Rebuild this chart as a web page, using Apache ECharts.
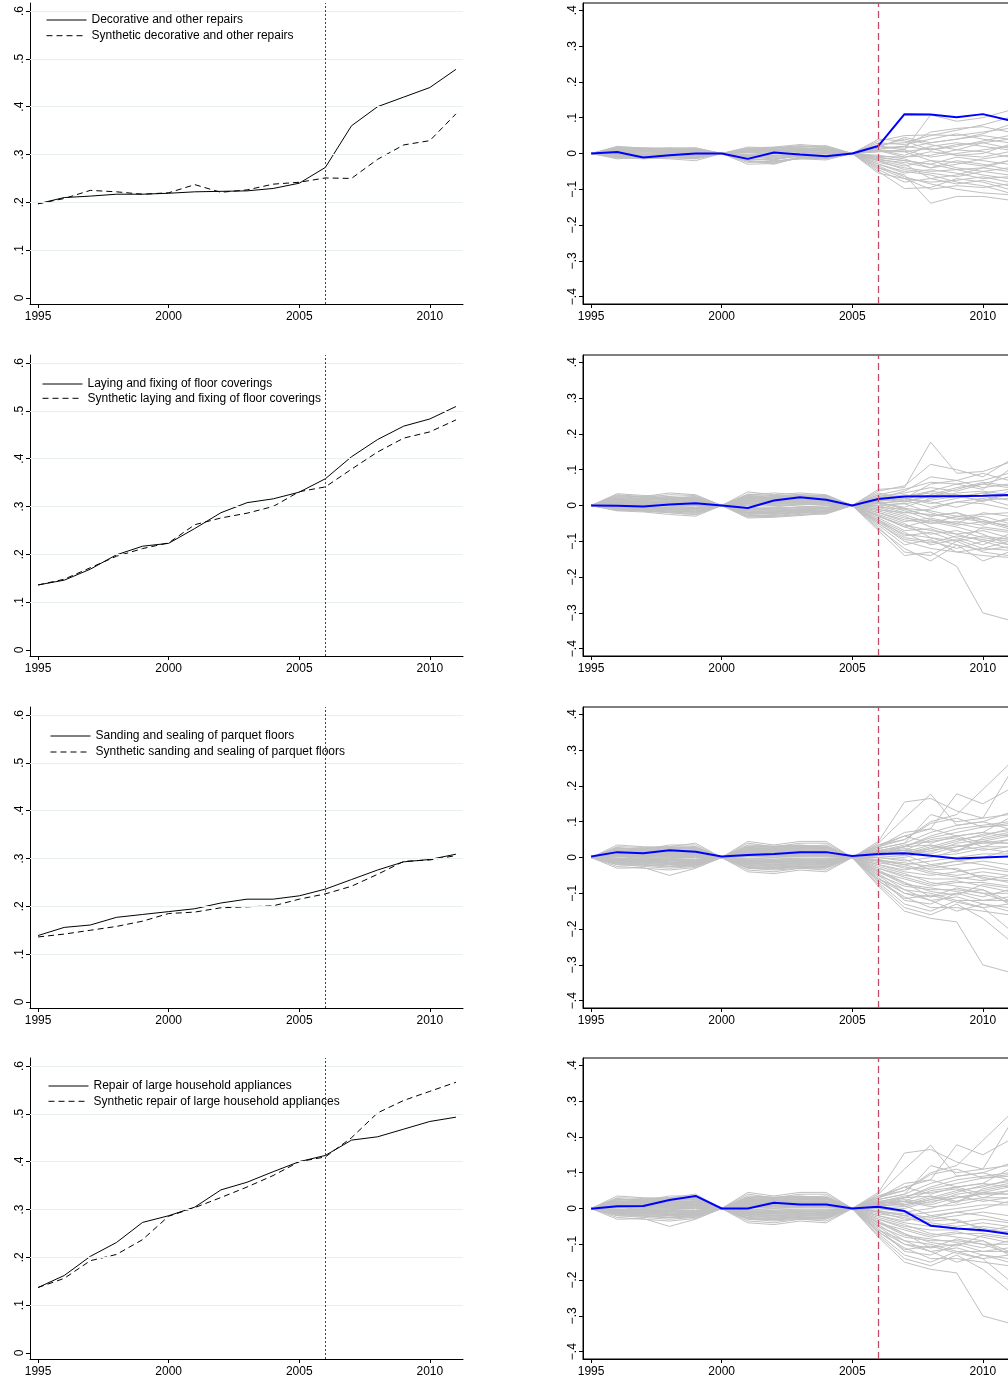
<!DOCTYPE html>
<html>
<head>
<meta charset="utf-8">
<script src="https://cdn.jsdelivr.net/npm/echarts@6/dist/echarts.min.js"></script>
<style>html,body{margin:0;padding:0;background:#fff;overflow:hidden;width:1008px;height:1380px}#c{width:1030px;height:1380px}</style>
</head>
<body>
<div id="c"></div>
<script>
const years = [1995,1996,1997,1998,1999,2000,2001,2002,2003,2004,2005,2006,2007,2008,2009,2010,2011];
const xTicks = [1995,2000,2005,2010];
const yTicksLeft = [0,.1,.2,.3,.4,.5,.6];
const yGridLeft = [.1,.2,.3,.4,.5,.6];
const yTicksRight = [-.4,-.3,-.2,-.1,0,.1,.2,.3,.4];
const treatYear = 2006;

const names = [
  ['Decorative and other repairs','Synthetic decorative and other repairs'],
  ['Laying and fixing of floor coverings','Synthetic laying and fixing of floor coverings'],
  ['Sanding and sealing of parquet floors','Synthetic sanding and sealing of parquet floors'],
  ['Repair of large household appliances','Synthetic repair of large household appliances']
];

const decorActual  = [.197,.210,.213,.217,.217,.219,.222,.223,.224,.229,.240,.273,.360,.400,.420,.440,.478];
const decorSynth   = [.197,.208,.225,.222,.217,.220,.237,.221,.226,.238,.242,.251,.250,.290,.320,.329,.385];
const layingActual = [.136,.146,.169,.199,.217,.223,.254,.287,.308,.316,.330,.358,.404,.440,.468,.483,.509];
const layingSynth  = [.136,.148,.172,.196,.212,.224,.262,.276,.286,.300,.331,.341,.378,.414,.443,.456,.481];
const sandActual   = [.139,.156,.161,.177,.183,.189,.195,.207,.215,.215,.222,.236,.256,.276,.293,.298,.309];
const sandSynth    = [.136,.142,.150,.158,.169,.185,.188,.197,.199,.201,.215,.226,.242,.267,.294,.297,.306];
const repairActual = [.137,.162,.202,.231,.273,.287,.305,.341,.357,.379,.400,.413,.445,.452,.468,.484,.493];
const repairSynth  = [.137,.156,.193,.206,.237,.286,.304,.325,.347,.371,.400,.410,.450,.502,.528,.547,.566];

const gapDecor  = [0,.004,-.011,-.005,0,0,-.015,.003,-.003,-.008,0,.021,.110,.109,.101,.110,.093];
const gapLaying = [0,-.001,-.003,.003,.006,0,-.007,.014,.023,.016,0,.018,.025,.026,.026,.027,.029];
const gapSand   = [.003,.015,.012,.020,.016,.003,.007,.010,.015,.015,.004,.010,.012,.005,-.003,.000,.003];
const gapRepair = [-.001,.006,.007,.024,.035,0,0,.016,.011,.011,0,.005,-.007,-.048,-.056,-.061,-.071];

const placebosDecor = [
[0,.02,.015,.012,.01,0,.01,.015,.02,.018,0,.035,.05,.052,.05,.06,.07],
[0,.015,.01,.015,.016,0,.005,.01,.012,.015,0,.02,.01,.108,.09,.1,.12],
[0,-.01,-.012,-.015,-.02,0,-.03,-.028,-.012,-.01,0,-.05,-.098,-.095,-.07,-.08,-.1],
[0,-.005,-.01,-.012,-.01,0,-.02,-.03,-.01,-.015,0,-.04,-.06,-.139,-.12,-.12,-.13],
[0,.01,.005,.008,.005,0,.012,.01,.015,.012,0,.015,.02,.06,.07,.075,.06],
[0,.005,0,-.005,0,0,.008,.005,.01,.008,0,-.01,-.02,-.03,-.01,-.02,-.03],
[0,-.008,-.01,-.005,-.008,0,-.01,-.015,-.005,-.005,0,-.03,-.05,-.06,-.08,-.09,-.11],
[0,.012,.008,.01,.012,0,.015,.018,.025,.02,0,.03,.025,.04,.055,.04,.03],
[0,.003,-.003,.002,-.002,0,-.005,-.008,.002,.005,0,-.02,-.035,-.02,-.04,-.05,-.06],
[0,-.012,-.015,-.012,-.015,0,-.015,-.02,-.015,-.012,0,-.055,-.07,-.1,-.09,-.095,-.085],
[0,.008,.012,.01,.008,0,.01,.012,.008,.01,0,.01,-.005,.02,.03,.02,.01],
[0,.018,.016,.014,.015,0,.018,.015,.018,.022,0,.04,.035,.01,.02,.035,.05],
[0,-.003,-.006,-.008,-.005,0,-.012,-.01,-.008,-.01,0,-.025,-.04,-.05,-.045,-.06,-.07],
[0,.006,.004,.002,.004,0,.002,.004,.006,.004,0,.005,.01,-.01,0,.01,.02],
[0,-.015,-.01,-.01,-.012,0,-.025,-.022,-.015,-.018,0,-.045,-.08,-.07,-.085,-.075,-.09],
[0,.01,.006,.004,.002,0,-.002,.002,.008,.006,0,-.005,-.015,-.04,-.03,-.015,-.005],
[0,.014,.012,.01,.008,0,.006,.008,.012,.015,0,.025,.03,.05,.065,.08,.1],
[0,-.006,-.004,-.002,-.006,0,-.008,-.012,-.002,0,0,-.015,-.03,-.07,-.06,-.04,-.05],
[0,.002,.006,.008,.01,0,.004,.006,.004,.002,0,.01,.005,-.02,-.025,-.035,-.02],
[0,-.01,-.008,-.006,-.004,0,-.006,-.004,-.006,-.008,0,-.035,-.065,-.085,-.1,-.11,-.115],
[0,.016,.014,.016,.012,0,.012,.014,.016,.014,0,.02,.015,.03,.04,.055,.08],
[0,.004,.002,0,.002,0,-.004,0,.002,.002,0,-.008,-.01,.005,-.005,-.01,.005],
[0,-.004,-.008,-.01,-.012,0,-.018,-.016,-.008,-.006,0,-.02,-.045,-.055,-.065,-.05,-.04],
[0,.008,.01,.012,.014,0,.008,.01,.014,.016,0,.02,.04,.025,.01,.03,.04],
[0,.012,.014,.012,.01,0,.008,.012,.014,.01,0,.012,.02,.01,.025,.03,.015],
[0,-.002,-.004,-.006,-.008,0,-.014,-.018,-.004,-.004,0,-.018,-.025,-.04,-.02,-.03,-.045],
[0,.006,.008,.006,.006,0,.006,.008,.01,.012,0,.008,-.01,-.005,.01,.005,-.01],
[0,-.008,-.006,-.004,-.01,0,-.02,-.024,-.01,-.012,0,-.03,-.055,-.045,-.055,-.07,-.065],
[0,.016,.012,.014,.01,0,.014,.016,.022,.016,0,.018,.045,.03,.04,.05,.04],
[0,0,-.002,-.004,-.002,0,-.008,-.006,0,.002,0,-.012,-.02,-.03,-.045,-.04,-.02],
[0,.01,.008,.006,.006,0,.004,.006,.01,.008,0,.005,.005,.015,-.005,0,.025],
[0,-.012,-.012,-.01,-.014,0,-.022,-.026,-.012,-.014,0,-.04,-.07,-.08,-.075,-.065,-.08]
];

const placebosLaying = [
[0,.033,.028,.025,.02,0,.038,.03,.035,.03,0,.045,.05,.177,.09,.095,.12],
[0,.03,.025,.035,.03,0,.03,.035,.03,.028,0,.04,.055,.115,.1,.08,.125],
[0,-.015,-.018,-.025,-.03,0,-.035,-.033,-.028,-.022,0,-.07,-.14,-.13,-.17,-.30,-.32],
[0,-.012,-.015,-.02,-.025,0,-.03,-.03,-.025,-.02,0,-.065,-.12,-.155,-.11,-.155,-.13],
[0,.02,.018,.022,.025,0,.025,.02,.022,.025,0,.03,.02,.06,.07,.09,.07],
[0,.015,.01,.012,.015,0,.02,.015,.018,.02,0,.015,.01,.03,.05,.06,.08],
[0,.01,.008,.01,.012,0,.012,.01,.012,.014,0,.008,-.005,.02,.03,.01,.04],
[0,.005,.003,.006,.008,0,.006,.008,.006,.008,0,0,-.02,-.01,.01,.02,0],
[0,-.005,-.006,-.008,-.01,0,-.01,-.012,-.01,-.008,0,-.02,-.04,-.05,-.03,-.04,-.06],
[0,-.008,-.01,-.012,-.015,0,-.018,-.02,-.015,-.012,0,-.03,-.06,-.08,-.07,-.09,-.1],
[0,-.01,-.012,-.015,-.02,0,-.025,-.022,-.018,-.015,0,-.045,-.09,-.1,-.12,-.1,-.12],
[0,.025,.02,.018,.015,0,.015,.025,.028,.022,0,.025,.035,.05,.04,.06,.05],
[0,.012,.015,.018,.02,0,.02,.018,.015,.016,0,.01,.005,-.02,-.04,-.03,-.05],
[0,.002,0,-.002,-.004,0,-.005,-.004,.002,.004,0,-.01,-.03,-.06,-.08,-.07,-.09],
[0,-.003,-.004,.002,.004,0,.004,.002,-.002,-.004,0,-.015,-.035,-.045,-.06,-.08,-.11],
[0,.018,.022,.03,.028,0,.028,.026,.03,.026,0,.02,.04,.08,.07,.05,.06],
[0,.008,.005,.004,.006,0,.01,.012,.008,.01,0,.005,.015,.04,.06,.07,.09],
[0,-.014,-.012,-.01,-.008,0,-.022,-.025,-.02,-.018,0,-.05,-.1,-.12,-.13,-.14,-.145],
[0,.006,.01,.014,.01,0,.014,.016,.02,.018,0,.012,.02,.01,-.005,.015,.02],
[0,-.006,-.008,-.004,-.006,0,-.014,-.016,-.012,-.01,0,-.035,-.07,-.065,-.09,-.11,-.08],
[0,.014,.012,.008,.012,0,.016,.012,.01,.012,0,.02,.03,.02,.035,.04,.03],
[0,-.002,-.002,-.006,-.012,0,-.008,-.006,-.006,-.006,0,-.025,-.05,-.09,-.1,-.06,-.07],
[0,.022,.018,.016,.018,0,.022,.028,.024,.02,0,.03,.045,.065,.06,.045,.1],
[0,.004,.006,.008,.002,0,.008,.004,.004,.006,0,-.005,-.01,-.03,-.02,-.05,-.04],
[0,-.01,-.014,-.018,-.022,0,-.028,-.028,-.022,-.018,0,-.06,-.13,-.14,-.1,-.13,-.14],
[0,.01,.014,.02,.024,0,.024,.022,.026,.024,0,.015,.025,.04,.03,.025,.015],
[0,-.004,-.01,-.014,-.018,0,-.02,-.018,-.014,-.014,0,-.04,-.075,-.11,-.095,-.12,-.125],
[0,.016,.02,.024,.018,0,.018,.02,.024,.028,0,.035,.02,.005,.02,.035,.045],
[0,0,.002,.004,0,0,0,.006,.01,.012,0,.005,-.015,-.04,-.05,-.02,-.03],
[0,-.008,-.006,-.01,-.016,0,-.012,-.014,-.016,-.016,0,-.03,-.055,-.07,-.08,-.1,-.09],
[0,.028,.024,.02,.022,0,.032,.028,.02,.018,0,.02,.01,.025,.045,.065,.055],
[0,-.012,-.016,-.02,-.026,0,-.032,-.03,-.026,-.024,0,-.055,-.11,-.095,-.13,-.12,-.1],
[0,.02,.016,.014,.01,0,.02,.018,.016,.014,0,.01,-.01,-.03,-.02,-.04,-.06],
[0,-.004,-.002,0,.002,0,-.008,-.01,-.004,0,0,-.02,-.045,-.035,-.05,-.065,-.075],
[0,.012,.01,.006,.004,0,.006,.004,.008,.006,0,-.005,-.025,-.05,-.045,-.055,-.035],
[0,-.01,-.008,-.006,-.01,0,-.016,-.018,-.008,-.006,0,-.04,-.085,-.075,-.1,-.085,-.095],
[0,.024,.026,.02,.016,0,.026,.02,.018,.016,0,.02,.025,.035,.025,.015,.03],
[0,.006,.004,.002,0,0,.002,0,.004,.002,0,-.012,-.02,-.025,-.035,-.045,-.055],
[0,-.006,-.01,-.012,-.01,0,-.02,-.024,-.018,-.014,0,-.05,-.095,-.105,-.085,-.095,-.11],
[0,.016,.014,.018,.022,0,.02,.024,.02,.022,0,.025,.015,-.005,.01,.005,-.01],
[0,.002,.004,.006,.01,0,.01,.008,.01,.01,0,0,.005,.015,.025,.035,.025],
[0,-.012,-.014,-.016,-.018,0,-.024,-.022,-.02,-.016,0,-.045,-.08,-.09,-.11,-.125,-.115],
[0,.008,.006,.01,.014,0,.012,.014,.014,.012,0,.008,-.008,-.015,-.03,-.025,-.02],
[0,-.002,-.006,-.008,-.006,0,-.01,-.008,-.01,-.008,0,-.028,-.06,-.04,-.055,-.045,-.065]
];

const placebosParquetRepair = [
[0,.035,.03,.028,.025,0,.045,.035,.045,.045,0,.045,.155,.165,.13,.11,.12],
[0,.03,.028,.03,.04,0,.04,.03,.04,.04,0,.04,.11,.177,.09,.1,.125],
[0,.025,.025,.03,.03,0,.035,.032,.035,.03,0,.035,.06,.08,.178,.15,.19],
[0,.02,.022,.035,.035,0,.03,.03,.03,.035,0,.03,.05,.1,.12,.19,.26],
[0,.028,.02,.025,.028,0,.025,.025,.028,.028,0,.025,.04,.12,.1,.11,.23],
[0,-.03,-.028,-.05,-.03,0,-.04,-.045,-.035,-.04,0,-.08,-.15,-.17,-.18,-.30,-.32],
[0,-.025,-.03,-.035,-.028,0,-.035,-.04,-.03,-.035,0,-.075,-.14,-.16,-.13,-.17,-.23],
[0,-.02,-.025,-.03,-.025,0,-.03,-.035,-.03,-.03,0,-.07,-.13,-.15,-.12,-.14,-.2],
[0,-.018,-.02,-.025,-.02,0,-.028,-.03,-.025,-.025,0,-.065,-.11,-.14,-.14,-.15,-.16],
[0,-.015,-.018,-.02,-.018,0,-.025,-.028,-.022,-.02,0,-.06,-.1,-.12,-.11,-.13,-.14],
[0,.015,.012,.015,.018,0,.02,.018,.02,.022,0,.02,.03,.06,.08,.09,.1],
[0,.012,.01,.012,.014,0,.016,.014,.016,.018,0,.015,.02,.05,.06,.07,.11],
[0,.01,.008,.01,.01,0,.012,.01,.012,.014,0,.01,.01,.03,.05,.06,.08],
[0,.008,.006,.008,.006,0,.008,.008,.01,.01,0,.005,0,.02,.03,.04,.05],
[0,.005,.004,.004,.004,0,.005,.005,.006,.006,0,0,-.01,0,.02,.03,.03],
[0,.002,.002,0,0,0,.002,0,.002,.002,0,-.005,-.02,-.01,0,.01,.01],
[0,-.002,-.002,-.004,-.004,0,-.002,-.004,-.002,-.002,0,-.01,-.03,-.03,-.02,-.01,-.02],
[0,-.005,-.004,-.006,-.008,0,-.006,-.008,-.006,-.006,0,-.02,-.04,-.05,-.04,-.03,-.04],
[0,-.008,-.008,-.01,-.01,0,-.01,-.012,-.01,-.01,0,-.03,-.05,-.06,-.06,-.05,-.06],
[0,-.01,-.012,-.014,-.012,0,-.014,-.016,-.014,-.014,0,-.04,-.06,-.08,-.07,-.07,-.08],
[0,-.012,-.015,-.017,-.015,0,-.018,-.02,-.018,-.017,0,-.05,-.08,-.09,-.09,-.1,-.1],
[0,.018,.015,.02,.02,0,.025,.022,.025,.025,0,.025,.04,.07,.09,.1,.08],
[0,.022,.018,.022,.024,0,.028,.026,.03,.03,0,.03,.06,.04,.06,.07,.06],
[0,.006,.01,.014,.016,0,.01,.014,.018,.02,0,.012,.025,.015,.04,.05,.065],
[0,-.006,-.01,-.015,-.02,0,-.02,-.024,-.02,-.022,0,-.045,-.09,-.1,-.12,-.12,-.11],
[0,.004,-.004,-.008,-.012,0,-.016,-.012,-.008,-.012,0,-.035,-.07,-.11,-.1,-.09,-.12],
[0,.012,.016,.018,.02,0,.02,.022,.024,.026,0,.02,.008,-.02,-.01,0,.02],
[0,-.004,-.006,-.012,-.016,0,-.008,-.01,-.012,-.016,0,-.025,-.045,-.07,-.08,-.09,-.13],
[0,.016,.02,.024,.026,0,.03,.028,.032,.032,0,.03,.07,.08,.06,.04,.04],
[0,-.014,-.016,-.02,-.022,0,-.022,-.026,-.024,-.026,0,-.055,-.12,-.13,-.1,-.12,-.12],
[0,.002,.006,.006,.008,0,.006,.006,.004,.008,0,-.01,-.02,-.04,-.05,-.04,-.05],
[0,.024,.022,.018,.02,0,.022,.024,.026,.02,0,.015,.03,.055,.07,.085,.09],
[0,-.02,-.022,-.026,-.024,0,-.03,-.032,-.028,-.028,0,-.06,-.09,-.12,-.15,-.13,-.15],
[0,.01,.012,.008,.012,0,.014,.012,.014,.012,0,.005,.015,.035,.02,.045,.04],
[0,-.01,-.014,-.008,-.014,0,-.012,-.014,-.016,-.012,0,-.04,-.075,-.085,-.095,-.11,-.09],
[0,.014,.008,.012,.008,0,.018,.016,.012,.016,0,.02,.01,.025,.035,.02,.03],
[0,.02,.016,.018,.022,0,.024,.02,.022,.02,0,.015,.02,.01,.03,.045,.06],
[0,-.006,-.008,-.004,-.006,0,-.012,-.014,-.01,-.008,0,-.03,-.055,-.075,-.065,-.08,-.095],
[0,.008,.012,.016,.012,0,.016,.018,.02,.018,0,.01,.005,.025,.045,.065,.075],
[0,-.012,-.01,-.014,-.018,0,-.02,-.022,-.02,-.02,0,-.05,-.1,-.11,-.085,-.1,-.125],
[0,.004,.002,.006,.002,0,.004,.002,.004,.004,0,-.008,-.015,-.025,-.01,-.02,-.035],
[0,.018,.014,.016,.014,0,.02,.02,.018,.016,0,.018,.035,.045,.055,.03,.05],
[0,-.016,-.02,-.024,-.02,0,-.026,-.03,-.026,-.024,0,-.065,-.115,-.105,-.125,-.14,-.13],
[0,.01,.006,.004,.008,0,.008,.01,.008,.006,0,0,-.005,-.035,-.03,-.06,-.065],
[0,-.002,-.004,-.008,-.01,0,-.004,-.006,-.008,-.01,0,-.02,-.035,-.02,-.035,-.055,-.07],
[0,.026,.024,.026,.03,0,.032,.03,.034,.03,0,.035,.05,.095,.11,.085,.095],
[0,.006,.008,.002,.004,0,.01,.008,.006,.01,0,.008,.02,.005,.01,.025,.015],
[0,-.008,-.012,-.016,-.014,0,-.016,-.018,-.016,-.016,0,-.04,-.07,-.095,-.105,-.075,-.085],
[0,.012,.014,.01,.016,0,.012,.016,.018,.014,0,.01,.03,.035,.015,.055,.07],
[0,-.004,0,-.002,-.008,0,-.01,-.008,-.004,-.004,0,-.015,-.025,-.045,-.055,-.065,-.05]
];

const actuals = [decorActual, layingActual, sandActual, repairActual];
const synths  = [decorSynth, layingSynth, sandSynth, repairSynth];
const gaps    = [gapDecor, gapLaying, gapSand, gapRepair];
const placebos = [placebosDecor, placebosLaying, placebosParquetRepair, placebosParquetRepair];

const FONT = '"Liberation Sans", Arial, Helvetica, sans-serif';
const tops = [3, 355, 707, 1058];
const legendPos = [
  {left: 46, top: 14, gap: 3.7},
  {left: 42, top: 378, gap: 2.3},
  {left: 50, top: 730, gap: 4},
  {left: 48, top: 1080, gap: 3.3}
];
const pts = arr => years.map((y, i) => [y, arr[i]]);
const fmtY = v => { const r = Math.round(v * 10); if (r === 0) return '0'; return (r < 0 ? '\u2212' : '') + '.' + Math.abs(r); };

const grid = [], xAxis = [], yAxis = [], series = [], legend = [];
for (let i = 0; i < 4; i++) {
  const L = 2 * i, R = 2 * i + 1;
  grid.push({left: 30, top: tops[i], width: 433, height: 301});
  grid.push({left: 583, top: tops[i], width: 433, height: 301, show: true, borderColor: '#000', borderWidth: 1});
  [L, R].forEach(g => {
    xAxis.push({
      gridIndex: g, type: 'value', min: 1994.69, max: 2011.27,
      axisLine: {show: true, onZero: false, lineStyle: {color: '#000', width: 1}},
      axisTick: {show: true, customValues: xTicks, length: 4, lineStyle: {color: '#000'}},
      axisLabel: {customValues: xTicks, formatter: v => String(v), margin: 7, fontSize: 12, color: '#000', fontFamily: FONT},
      splitLine: {show: false}
    });
  });
  yAxis.push({
    gridIndex: L, type: 'value', min: -0.0125, max: 0.6167,
    axisLine: {show: true, onZero: false, lineStyle: {color: '#000', width: 1}},
    axisTick: {show: true, customValues: yTicksLeft, length: 4, lineStyle: {color: '#000'}},
    axisLabel: {customValues: yTicksLeft, formatter: fmtY, rotate: 90, margin: 4, fontSize: 12, color: '#000', fontFamily: FONT},
    splitLine: {show: false}
  });
  yAxis.push({
    gridIndex: R, type: 'value', min: -0.4205, max: 0.4205,
    axisLine: {show: true, onZero: false, lineStyle: {color: '#000', width: 1}},
    axisTick: {show: true, customValues: yTicksRight, length: 4, lineStyle: {color: '#000'}},
    axisLabel: {customValues: yTicksRight, formatter: fmtY, rotate: 90, margin: 4, fontSize: 12, color: '#000', fontFamily: FONT},
    splitLine: {show: false}
  });

  series.push({
    type: 'line', xAxisIndex: L, yAxisIndex: L, data: [], z: 1, silent: true,
    markLine: {symbol: ['none', 'none'], silent: true, animation: false, label: {show: false},
      lineStyle: {color: '#e8eff1', type: 'solid', width: 1},
      data: yGridLeft.map(v => ({yAxis: v}))}
  });
  series.push({
    name: names[i][0], type: 'line', xAxisIndex: L, yAxisIndex: L, data: pts(actuals[i]),
    symbol: 'none', showSymbol: false, z: 3, lineStyle: {color: '#000', width: 1, type: 'solid'}, itemStyle: {color: '#000'},
    markLine: {symbol: ['none', 'none'], silent: true, animation: false, label: {show: false},
      lineStyle: {color: '#444', type: [2, 2], width: 1}, data: [{xAxis: treatYear}]}
  });
  series.push({
    name: names[i][1], type: 'line', xAxisIndex: L, yAxisIndex: L, data: pts(synths[i]),
    symbol: 'none', showSymbol: false, z: 3, lineStyle: {color: '#000', width: 1, type: [6, 4]}, itemStyle: {color: '#000'}
  });
  legend.push({
    data: names[i], left: legendPos[i].left, top: legendPos[i].top, orient: 'vertical',
    itemWidth: 40, itemHeight: 12, itemGap: legendPos[i].gap, padding: 0, selectedMode: false,
    itemStyle: {opacity: 0},
    lineStyle: {width: 1},
    textStyle: {fontSize: 12, color: '#000', fontFamily: FONT}
  });
  placebos[i].forEach((p, k) => {
    series.push({
      name: 'placebo' + i + '_' + k, type: 'line', xAxisIndex: R, yAxisIndex: R, data: pts(p),
      symbol: 'none', z: 2, silent: true, lineStyle: {color: '#c0c0c0', width: 1}
    });
  });
  series.push({
    name: 'gap' + i, type: 'line', xAxisIndex: R, yAxisIndex: R, data: pts(gaps[i]),
    symbol: 'none', z: 4, lineStyle: {color: '#0000ff', width: 2},
    markLine: {symbol: ['none', 'none'], silent: true, animation: false, label: {show: false},
      lineStyle: {color: '#c44d6b', type: [7, 4], width: 1.3}, data: [{xAxis: treatYear}]}
  });
}

const chart = echarts.init(document.getElementById('c'), null, {renderer: 'canvas', width: 1030, height: 1380});
chart.setOption({
  animation: false, backgroundColor: '#fff',
  grid, xAxis, yAxis, series, legend
});
</script>
</body>
</html>
